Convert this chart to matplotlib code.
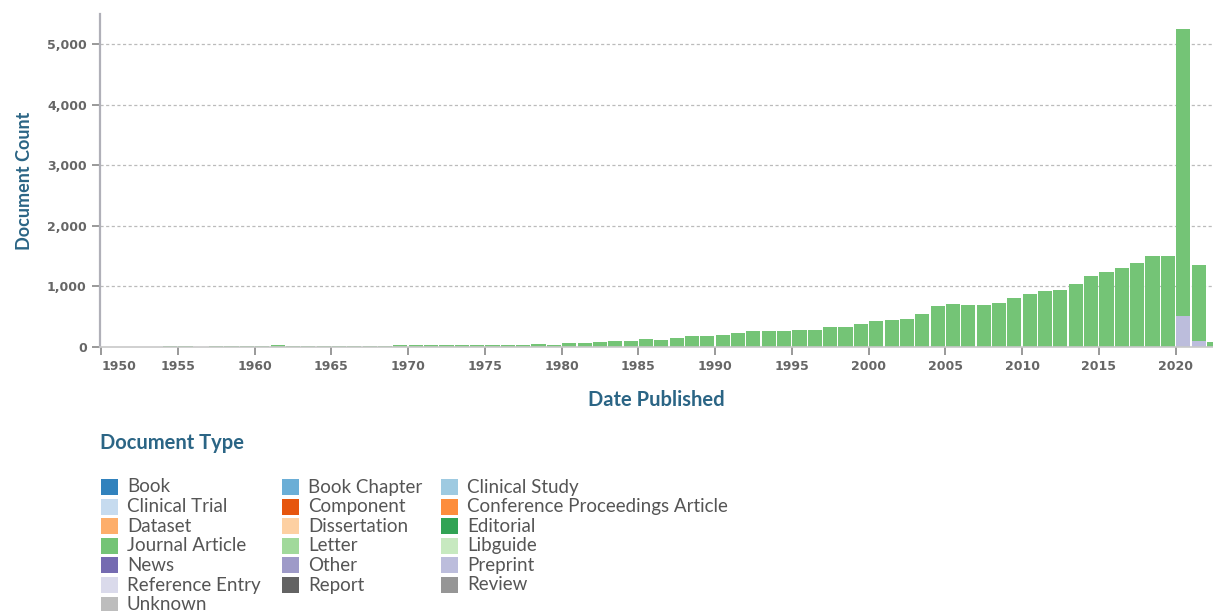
import numpy as np
import matplotlib.pyplot as plt
from matplotlib.patches import Rectangle

# documents per year, 1950 - 2022
years = np.arange(1950, 2023)
totals = [8, 6, 5, 7, 12, 10, 8, 9, 12, 10,
          12, 35, 14, 10, 20, 22, 22, 22, 22, 25,
          25, 25, 28, 28, 26, 30, 28, 28, 44, 28,
          66, 72, 83, 99, 99, 138, 110, 154, 187, 187,
          204, 232, 259, 259, 265, 281, 276, 331, 336, 386,
          435, 447, 458, 551, 673, 711, 689, 689, 722, 805,
          871, 926, 937, 1047, 1180, 1235, 1312, 1389, 1499, 1510,
          5248, 1362, 88]
preprint = [0] * 70 + [507, 99, 0]
journal = [t - p for t, p in zip(totals, preprint)]

doc_types = ['Book', 'Book Chapter', 'Clinical Study',
             'Clinical Trial', 'Component', 'Conference Proceedings Article',
             'Dataset', 'Dissertation', 'Editorial',
             'Journal Article', 'Letter', 'Libguide',
             'News', 'Other', 'Preprint',
             'Reference Entry', 'Report', 'Review',
             'Unknown']
type_colors = ['#3182bd', '#6baed6', '#9ecae1',
               '#c6dbef', '#e6550d', '#fd8d3c',
               '#fdae6b', '#fdd0a2', '#31a354',
               '#74c476', '#a1d99b', '#c7e9c0',
               '#756bb1', '#9e9ac8', '#bcbddc',
               '#dadaeb', '#636363', '#969696',
               '#bdbdbd']
col = dict(zip(doc_types, type_colors))

W, H = 1213, 611
fig = plt.figure(figsize=(W / 100, H / 100), dpi=100)
ax = fig.add_axes([100 / W, 1 - 347 / H, 1113 / W, 333 / H])

title_color = '#2b6585'
tick_color = '#666666'

ax.bar(years + 0.04, preprint, width=0.92, align='edge', color=col['Preprint'])
ax.bar(years + 0.04, journal, width=0.92, align='edge', bottom=preprint,
       color=col['Journal Article'])

ax.set_xlim(1949.93, 2022.44)
ax.set_ylim(0, 5500)
ax.set_xticks(np.arange(1950, 2021, 5))
ax.set_yticks(np.arange(0, 5001, 1000))
ax.set_yticklabels(['{:,}'.format(v) for v in range(0, 5001, 1000)])
ax.tick_params(axis='both', colors='#888888', labelcolor=tick_color,
               labelsize=9, length=6, width=1.2)
for lbl in ax.get_xticklabels() + ax.get_yticklabels():
    lbl.set_fontweight('bold')
ax.get_xticklabels()[0].set_ha('left')  # first label sits inside the axis

for v in range(1000, 5001, 1000):
    ax.axhline(v, color='#bbbbbb', lw=0.9, ls=(0, (2.5, 2)), zorder=0)

for s in ['top', 'right']:
    ax.spines[s].set_visible(False)
ax.spines['left'].set_color('#b0b0b8')
ax.spines['left'].set_linewidth(1.6)
ax.spines['bottom'].set_color('#c8c8c8')
ax.spines['bottom'].set_linewidth(1.2)

ax.set_xlabel('Date Published', fontsize=14.5, fontweight='bold',
              color=title_color, family='Lato', labelpad=12)
ax.set_ylabel('Document Count', fontsize=13, fontweight='bold',
              color=title_color, family='Lato', labelpad=10)

# legend drawn by hand, three columns filled row by row
fig.text(100 / W, 1 - 443 / H, 'Document Type', fontsize=14.5, fontweight='bold',
         color=title_color, family='Lato', va='center')
col_x = [101, 282, 441]
row_y0, row_dy = 487, 19.6
for i, (name, c) in enumerate(zip(doc_types, type_colors)):
    r, k = divmod(i, 3)
    x = col_x[k]
    y = row_y0 + r * row_dy
    fig.add_artist(Rectangle((x / W, 1 - (y + 8) / H), 17 / W, 16 / H,
                             transform=fig.transFigure, color=c, lw=0))
    fig.text((x + 26) / W, 1 - y / H, name, fontsize=13.5, color='#555555',
             family='Lato', va='center')

fig.savefig('out.png', dpi=100)
